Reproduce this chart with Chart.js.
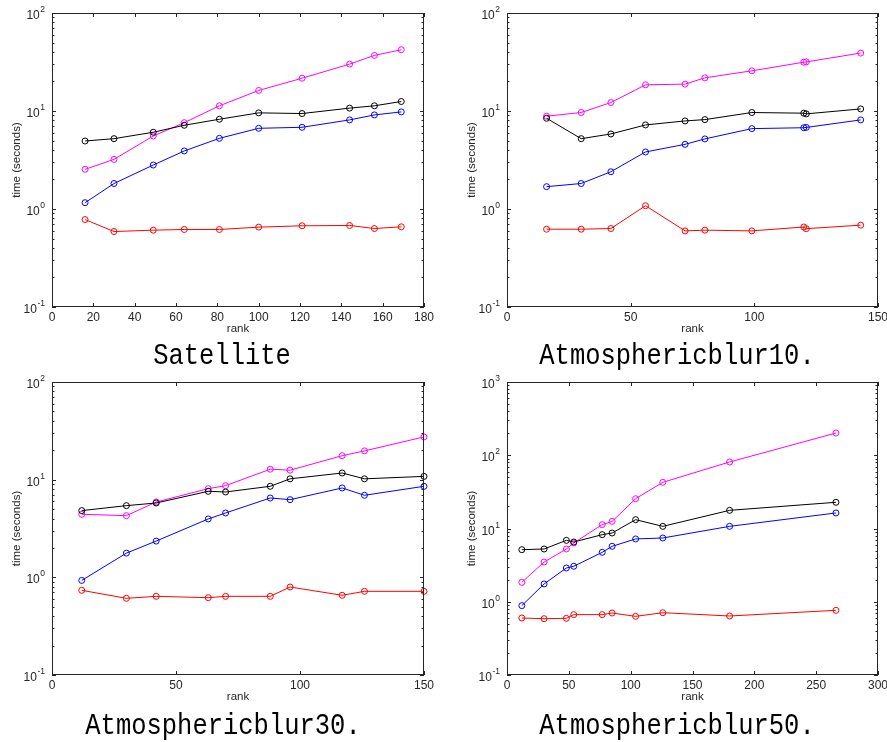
<!DOCTYPE html>
<html>
<head>
<meta charset="utf-8">
<script src="https://cdn.jsdelivr.net/npm/chart.js@4.4.0/dist/chart.umd.min.js"></script>
<style>
  body { margin: 0; background: #fff; width: 887px; height: 742px; overflow: hidden; position: relative; }
  .panel { position: absolute; }
  .caption {
    position: absolute;
    font-family: "Liberation Mono", monospace;
    font-size: 25.5px;
    color: #000;
    white-space: nowrap;
    transform: translate(-50%, -50%) scaleY(1.15);
  }
</style>
</head>
<body>

<div class="panel" style="left:0px;top:0px"><canvas id="satellite" width="439" height="347"></canvas></div>
<div class="panel" style="left:455px;top:0px"><canvas id="blur10" width="438" height="347"></canvas></div>
<div class="panel" style="left:0px;top:369px"><canvas id="blur30" width="439" height="346"></canvas></div>
<div class="panel" style="left:455px;top:369px"><canvas id="blur50" width="438" height="346"></canvas></div>

<div class="caption" style="left:222px;top:357px">Satellite</div>
<div class="caption" style="left:677px;top:357px">Atmosphericblur10.</div>
<div class="caption" style="left:223px;top:727px">Atmosphericblur30.</div>
<div class="caption" style="left:677px;top:727px">Atmosphericblur50.</div>

<script>
// Satellite
const satRank    = [16, 30, 49, 64, 81, 100, 121, 144, 156, 169];
const satMagenta = [2.54, 3.21, 5.56, 7.6, 11.3, 16.2, 21.6, 30.1, 36.9, 42.2];
const satBlack   = [4.94, 5.22, 6.07, 7.15, 8.24, 9.57, 9.42, 10.7, 11.3, 12.5];
const satBlue    = [1.16, 1.82, 2.81, 3.91, 5.26, 6.66, 6.82, 8.11, 9.12, 9.79];
const satRed     = [0.78, 0.589, 0.608, 0.618, 0.618, 0.653, 0.674, 0.679, 0.632, 0.658];

// Atmosphericblur10
const b10Rank    = [16, 30, 42, 56, 72, 80, 99, 120, 121, 143];
const b10Magenta = [8.85, 9.65, 12.2, 18.5, 18.8, 21.8, 25.7, 31.5, 31.7, 39.0];
const b10Black   = [8.43, 5.22, 5.83, 7.21, 7.92, 8.17, 9.65, 9.5, 9.35, 10.5];
const b10Blue    = [1.69, 1.82, 2.40, 3.82, 4.57, 5.19, 6.61, 6.75, 6.8, 8.11];
const b10Red     = [0.622, 0.622, 0.632, 1.08, 0.598, 0.608, 0.598, 0.655, 0.63, 0.684];

// Atmosphericblur30
const b30Rank    = [12, 30, 42, 63, 70, 88, 96, 117, 126, 150];
const b30Magenta = [4.42, 4.28, 5.9, 8.09, 8.68, 12.8, 12.5, 17.6, 19.7, 27.4];
const b30Black   = [4.82, 5.42, 5.77, 7.6, 7.48, 8.55, 10.2, 11.7, 10.2, 10.8];
const b30Blue    = [0.93, 1.77, 2.35, 3.96, 4.56, 6.49, 6.24, 8.22, 6.92, 8.55];
const b30Red     = [0.736, 0.61, 0.639, 0.619, 0.639, 0.639, 0.796, 0.655, 0.719, 0.719];

// Atmosphericblur50
const b50Rank    = [12, 30, 48, 54, 77, 85, 104, 126, 180, 266];
const b50Magenta = [1.84, 3.49, 5.25, 6.34, 11.3, 12.5, 25.5, 42.7, 80.9, 201];
const b50Black   = [5.14, 5.25, 6.89, 6.54, 8.24, 8.68, 13.2, 10.7, 17.7, 22.8];
const b50Blue    = [0.885, 1.75, 2.89, 3.05, 4.73, 5.71, 7.2, 7.42, 10.7, 16.3];
const b50Red     = [0.600, 0.587, 0.594, 0.667, 0.667, 0.702, 0.632, 0.709, 0.639, 0.764];

const AXIS_COLOR = '#262626';
const LABEL_FONT = '"Liberation Sans", Arial, sans-serif';

// box around the plot, inward ticks on all four sides, and 10^n labels
const frameTicks = {
  id: 'frameTicks',
  afterDraw(chart) {
    const { ctx, chartArea: a, scales: { x, y } } = chart;
    ctx.save();
    ctx.strokeStyle = AXIS_COLOR;
    ctx.lineWidth = 1;
    ctx.beginPath();
    x.ticks.forEach(t => {
      const px = Math.round(x.getPixelForValue(t.value)) + 0.5;
      ctx.moveTo(px, a.bottom); ctx.lineTo(px, a.bottom - 4);
      ctx.moveTo(px, a.top); ctx.lineTo(px, a.top + 4);
    });
    const lo = Math.round(Math.log10(y.min));
    const hi = Math.round(Math.log10(y.max));
    for (let d = lo; d <= hi; d++) {
      for (let k = 1; k <= 9; k++) {
        if (d === hi && k > 1) break;
        const py = Math.round(y.getPixelForValue(k * Math.pow(10, d))) + 0.5;
        const len = k === 1 ? 4 : 2.5;
        ctx.moveTo(a.left, py); ctx.lineTo(a.left + len, py);
        ctx.moveTo(a.right, py); ctx.lineTo(a.right - len, py);
      }
    }
    ctx.stroke();
    ctx.strokeRect(Math.round(a.left) + 0.5, Math.round(a.top) + 0.5,
                   Math.round(a.width) - 1, Math.round(a.height) - 1);

    ctx.fillStyle = AXIS_COLOR;
    ctx.textBaseline = 'alphabetic';
    ctx.textAlign = 'left';
    for (let d = lo; d <= hi; d++) {
      const py = y.getPixelForValue(Math.pow(10, d));
      const exp = String(d);
      ctx.font = '8.5px ' + LABEL_FONT;
      const we = ctx.measureText(exp).width;
      ctx.font = '12px ' + LABEL_FONT;
      const wb = ctx.measureText('10').width;
      const right = a.left - 7;
      ctx.fillText('10', right - we - wb - 0.5, py + 6);
      ctx.font = '8.5px ' + LABEL_FONT;
      ctx.fillText(exp, right - we, py - 1);
    }
    ctx.restore();
  }
};

function series(data, rank, color) {
  return {
    data: rank.map((r, i) => ({ x: r, y: data[i] })),
    borderColor: color,
    borderWidth: 1,
    pointRadius: 3,
    pointBorderWidth: 1,
    pointBorderColor: color,
    pointBackgroundColor: 'rgba(0,0,0,0)',
    tension: 0,
    clip: false
  };
}

function makePanel(id, rank, black, magenta, blue, red, xMax, xStep, yMax) {
  new Chart(document.getElementById(id), {
    type: 'line',
    data: {
      datasets: [
        series(black, rank, '#000000'),
        series(magenta, rank, '#ff00ff'),
        series(blue, rank, '#0000ff'),
        series(red, rank, '#ff0000')
      ]
    },
    options: {
      responsive: false,
      animation: false,
      events: [],
      layout: { padding: { left: 0, top: 13, right: 15, bottom: 0 } },
      plugins: { legend: { display: false }, tooltip: { enabled: false } },
      scales: {
        x: {
          type: 'linear',
          min: 0,
          max: xMax,
          grid: { display: false, drawTicks: false },
          border: { display: false },
          ticks: { stepSize: xStep, color: AXIS_COLOR, padding: 3, maxRotation: 0,
                   font: { family: LABEL_FONT, size: 12 } },
          title: { display: true, text: 'rank', color: AXIS_COLOR,
                   font: { family: LABEL_FONT, size: 11.5 }, padding: { top: 0, bottom: 11.5 } },
          afterFit: s => { s.height = 40; }
        },
        y: {
          type: 'logarithmic',
          min: 0.1,
          max: yMax,
          grid: { display: false, drawTicks: false },
          border: { display: false },
          ticks: { display: false },
          title: { display: true, text: 'time (seconds)', color: AXIS_COLOR,
                   font: { family: LABEL_FONT, size: 11.5 }, padding: { top: 10, bottom: 0 } },
          afterFit: s => { s.width = 52; }
        }
      }
    },
    plugins: [frameTicks]
  });
}

makePanel('satellite', satRank, satBlack, satMagenta, satBlue, satRed, 180, 20, 100);
makePanel('blur10', b10Rank, b10Black, b10Magenta, b10Blue, b10Red, 150, 50, 100);
makePanel('blur30', b30Rank, b30Black, b30Magenta, b30Blue, b30Red, 150, 50, 100);
makePanel('blur50', b50Rank, b50Black, b50Magenta, b50Blue, b50Red, 300, 50, 1000);
</script>
</body>
</html>
